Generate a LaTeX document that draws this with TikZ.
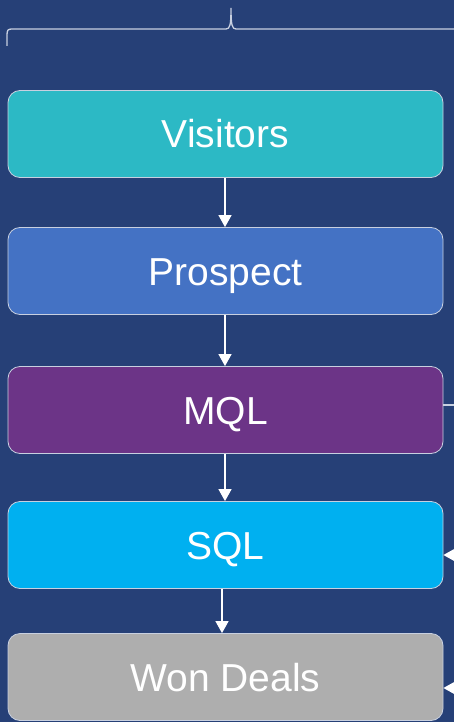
\documentclass[tikz,border=0pt]{standalone}
\usepackage{fontspec}
\setmainfont{Liberation Sans}
\usetikzlibrary{arrows.meta}
\definecolor{bgblue}{HTML}{264077}
\definecolor{cVisit}{HTML}{2CB9C5}
\definecolor{cProsp}{HTML}{4472C4}
\definecolor{cMQL}{HTML}{6C3487}
\definecolor{cSQL}{HTML}{00B0F0}
\definecolor{cWon}{HTML}{AEAEAE}
\definecolor{edge}{HTML}{C8D0E0}
\tikzset{
  px/.style={x=1pt,y=-1pt},
  stagebox/.style={draw=edge, line width=0.8pt, rounded corners=12pt,
    minimum width=435pt, minimum height=87pt, inner sep=0pt,
    text height=28pt, text depth=0pt,
    text=white, font=\fontsize{39}{42}\selectfont},
  flow/.style={draw=white, line width=1.3pt,
    -{Triangle[width=13pt,length=12pt]}},
  bracket/.style={draw=edge, line width=1.3pt}
}
\begin{document}
\begin{tikzpicture}[px]
  \fill[bgblue] (0,0) rectangle (454,722);
  \useasboundingbox (0,0) rectangle (454,722);

  % top bracket
  \draw[bracket] (7,46) -- (7,35) .. controls (7,30) and (8,29) .. (12,29)
    -- (226,29) .. controls (230,29) and (231,25) .. (231,8)
    .. controls (231,25) and (232,29) .. (236,29) -- (460,29);

  % stages
  \node[stagebox, fill=cVisit] (visit) at (225.5,134)  {Visitors};
  \node[stagebox, fill=cProsp] (prosp) at (225.5,271)  {Prospect};
  \node[stagebox, fill=cMQL]   (mql)   at (225.5,410)  {MQL};
  \node[stagebox, fill=cSQL]   (sql)   at (225.5,545)  {SQL};
  \node[stagebox, fill=cWon]   (won)   at (225.5,677)  {Won Deals};

  % downward flow
  \draw[flow] (visit.south -| 225,0) -- (prosp.north -| 225,0);
  \draw[flow] (prosp.south -| 225,0) -- (mql.north -| 225,0);
  \draw[flow] (mql.south -| 225,0) -- (sql.north -| 225,0);
  \draw[flow] (sql.south -| 222,0) -- (won.north -| 222,0);

  % side connectors at the right edge
  \coordinate (mqlout) at (470,405);
  \coordinate (sqlin) at (470,555);
  \coordinate (wonin) at (470,688);
  \draw[bracket] (mql.east |- mqlout) -- (mqlout);
  \draw[flow] (sqlin) -- (sql.east |- sqlin);
  \draw[flow] (wonin) -- (won.east |- wonin);
\end{tikzpicture}
\end{document}
